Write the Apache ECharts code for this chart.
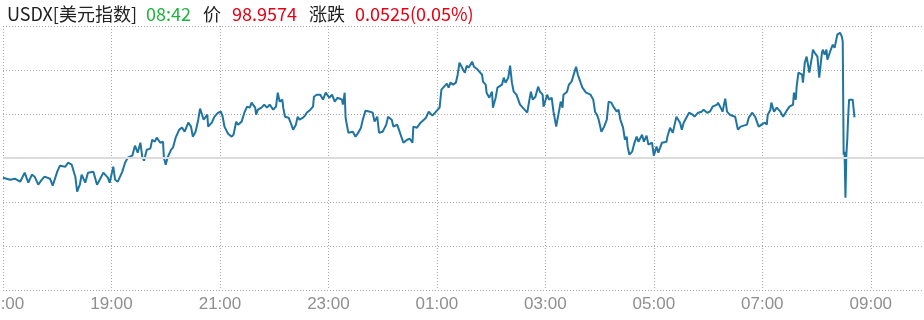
<!DOCTYPE html>
<html><head><meta charset="utf-8">
<script src="https://cdn.jsdelivr.net/npm/echarts@6/dist/echarts.min.js"></script>
<style>html,body{margin:0;padding:0;background:#fff}#c{width:924px;height:320px}</style>
</head><body><div id="c"></div>
<script>
const symbolName = 'USDX[美元指数]';
const lastTime = '08:42';
const lastPrice = '98.9574';
const changeText = '0.0525(0.05%)';
const prevClose = 98.9049;
const xTickHours = ['17:00','19:00','21:00','23:00','01:00','03:00','05:00','07:00','09:00'];

const times = [
'17:00','17:08','17:13','17:19','17:24','17:28','17:32','17:35','17:39','17:43','17:46','17:52','17:55',
'18:00','18:03','18:09','18:12','18:16','18:20','18:22','18:25','18:27','18:31','18:34','18:40','18:44','18:47','18:51','18:56','18:58',
'19:02','19:04','19:07','19:12','19:15','19:18','19:23','19:26','19:29','19:32','19:34','19:36','19:39','19:43','19:45','19:48','19:50','19:54','19:57','19:58',
'20:00','20:02','20:06','20:08','20:11','20:15','20:18','20:21','20:25','20:28','20:30','20:33','20:36','20:38','20:40','20:42','20:46','20:47','20:51','20:54','20:58',
'21:01','21:03','21:05','21:09','21:13','21:15','21:18','21:20','21:24','21:27','21:30','21:33','21:35','21:39','21:40','21:42','21:46','21:49','21:52','21:55','21:59',
'22:02','22:04','22:06','22:09','22:10','22:12','22:14','22:16','22:19','22:21','22:24','22:26','22:28','22:32','22:34','22:36','22:40','22:43','22:44','22:47','22:51','22:54','22:57',
'23:01','23:04','23:07','23:10','23:15','23:16','23:18','23:19','23:22','23:24','23:27','23:30','23:33','23:36','23:38','23:41','23:46','23:49','23:51','23:54','23:56',
'00:00','00:04','00:06','00:10','00:12','00:16','00:18','00:21','00:23','00:27','00:30','00:33','00:34','00:38','00:42','00:44','00:48','00:51','00:55','00:58',
'01:00','01:03','01:05','01:08','01:11','01:13','01:15','01:18','01:21','01:23','01:25','01:29','01:31','01:33','01:35','01:39','01:41','01:44','01:46','01:50','01:51','01:54','01:55','01:58',
'02:01','02:02','02:05','02:07','02:12','02:14','02:16','02:19','02:21','02:23','02:25','02:28','02:32','02:35','02:40','02:42','02:44','02:46','02:49','02:52','02:54','02:57','02:58',
'03:02','03:04','03:07','03:09','03:12','03:14','03:17','03:19','03:20','03:24','03:26','03:29','03:32','03:34','03:36','03:39','03:41','03:45','03:47','03:50','03:53','03:55','03:57','03:59',
'04:02','04:05','04:08','04:10','04:13','04:16','04:19','04:21','04:23','04:26','04:28','04:30','04:31','04:33','04:36','04:38','04:41','04:43','04:47','04:49','04:52','04:54','04:58',
'05:00','05:03','05:05','05:09','05:11','05:14','05:15','05:18','05:21','05:23','05:25','05:29','05:31','05:33','05:36','05:39','05:43','05:45','05:49','05:53','05:55','05:59',
'06:02','06:05','06:10','06:11','06:14','06:16','06:19','06:21','06:24','06:27','06:30','06:32','06:33','06:36','06:38','06:43','06:45','06:49','06:52','06:54','06:56','06:59',
'07:03','07:05','07:06','07:09','07:10','07:13','07:16','07:17','07:20','07:23','07:25','07:27','07:30','07:34','07:35','07:37','07:38','07:40','07:44','07:45','07:47','07:49','07:50','07:52','07:55','07:56','07:58',
'08:00','08:01','08:03','08:06','08:07','08:09','08:11','08:12','08:15','08:17','08:18','08:20','08:22','08:23','08:26','08:28','08:29','08:30','08:31','08:32','08:33','08:34','08:35','08:36','08:38','08:40','08:42'
];

const prices = [
98.8794,98.8768,98.8781,98.8742,98.8859,98.8729,98.8833,98.8807,98.8703,98.8768,98.8807,98.8781,98.8690,
98.8872,98.8950,98.8937,98.8988,98.8962,98.8807,98.8613,98.8703,98.8833,98.8729,98.8859,98.8872,98.8703,98.8768,98.8859,98.8794,98.8729,
98.8937,98.8768,98.8742,98.8872,98.8988,98.9053,98.9079,98.9209,98.9118,98.9247,98.9066,98.9014,98.9157,98.9170,98.9286,98.9260,98.9312,98.9247,98.9260,98.9053,
98.8962,98.9053,98.9157,98.9183,98.9312,98.9416,98.9442,98.9390,98.9507,98.9455,98.9325,98.9390,98.9545,98.9688,98.9701,98.9545,98.9610,98.9455,98.9507,98.9584,98.9636,
98.9649,98.9584,98.9455,98.9364,98.9325,98.9351,98.9520,98.9481,98.9520,98.9636,98.9714,98.9701,98.9766,98.9701,98.9610,98.9675,98.9701,98.9740,98.9701,98.9740,98.9675,
98.9714,98.9895,98.9779,98.9805,98.9701,98.9584,98.9584,98.9571,98.9481,98.9416,98.9481,98.9584,98.9545,98.9571,98.9597,98.9636,98.9675,98.9714,98.9843,98.9869,98.9869,98.9805,98.9895,
98.9830,98.9869,98.9779,98.9830,98.9805,98.9740,98.9895,98.9571,98.9377,98.9390,98.9390,98.9325,98.9377,98.9442,98.9545,98.9662,98.9649,98.9636,98.9520,98.9584,98.9377,
98.9390,98.9481,98.9584,98.9545,98.9455,98.9481,98.9416,98.9312,98.9247,98.9286,98.9299,98.9247,98.9455,98.9442,98.9507,98.9520,98.9571,98.9649,98.9597,98.9636,
98.9662,98.9701,98.9934,98.9973,99.0012,98.9960,99.0025,98.9999,99.0025,99.0128,99.0284,99.0193,99.0154,99.0245,99.0219,99.0297,99.0232,99.0206,99.0193,99.0128,99.0038,98.9999,98.9895,98.9830,
98.9908,98.9701,98.9830,98.9960,98.9999,99.0090,99.0025,99.0090,99.0245,99.0025,98.9908,98.9869,98.9740,98.9701,98.9636,98.9779,98.9908,98.9805,98.9843,98.9973,98.9908,98.9869,98.9714,
98.9869,98.9805,98.9830,98.9649,98.9455,98.9455,98.9779,98.9701,98.9869,98.9908,98.9999,99.0038,99.0154,99.0232,99.0128,99.0025,98.9960,98.9895,98.9908,98.9869,98.9805,98.9649,98.9610,98.9545,
98.9390,98.9455,98.9545,98.9779,98.9766,98.9701,98.9649,98.9675,98.9545,98.9442,98.9286,98.9325,98.9196,98.9092,98.9131,98.9222,98.9325,98.9260,98.9351,98.9260,98.9338,98.9222,98.9247,
98.9079,98.9196,98.9118,98.9247,98.9260,98.9260,98.9325,98.9442,98.9377,98.9481,98.9584,98.9507,98.9416,98.9507,98.9571,98.9636,98.9610,98.9584,98.9636,98.9649,98.9675,98.9636,
98.9649,98.9714,98.9740,98.9766,98.9701,98.9649,98.9818,98.9649,98.9610,98.9597,98.9584,98.9584,98.9416,98.9455,98.9442,98.9481,98.9571,98.9636,98.9584,98.9571,98.9455,98.9481,
98.9507,98.9481,98.9610,98.9675,98.9766,98.9649,98.9701,98.9714,98.9649,98.9584,98.9584,98.9662,98.9714,98.9740,98.9895,98.9805,98.9973,99.0154,99.0128,99.0025,99.0284,99.0362,99.0297,99.0154,99.0362,99.0452,99.0413,
99.0426,99.0362,99.0090,99.0413,99.0452,99.0387,99.0452,99.0323,99.0426,99.0426,99.0517,99.0478,99.0491,99.0647,99.0672,99.0621,99.0556,98.9092,98.9131,98.8535,98.9092,98.9286,98.9584,98.9805,98.9818,98.9805,98.9574
];

function toMinute(t) {
  const h = parseInt(t.slice(0, 2), 10), m = parseInt(t.slice(3), 10);
  return (h >= 17 ? h - 17 : h + 7) * 60 + m;
}
// change from previous close in units of 0.0001
const seriesData = times.map((t, i) => [toMinute(t), Math.round((prices[i] - prevClose) * 100000) / 10]);

const FONT = '"Noto Sans CJK SC", "Noto Sans", sans-serif';
function seg(color, padLeft) {
  return { color: color, fontSize: 18, fontWeight: 'normal', fontFamily: FONT, padding: [0, 0, 0, padLeft] };
}
const chart = echarts.init(document.getElementById('c'), null, { renderer: 'canvas' });
chart.setOption({
  animation: false,
  title: {
    left: 2, top: 0,
    text: '{a|' + symbolName + '}{b|' + lastTime + '}{c|价}{d|' + lastPrice + '}{e|涨跌}{f|' + changeText + '}',
    textStyle: {
      fontWeight: 'normal',
      rich: {
        a: seg('#222222', 0),
        b: seg('#1fb23c', 9),
        c: seg('#222222', 12),
        d: seg('#e60012', 11),
        e: seg('#222222', 12),
        f: seg('#e60012', 10)
      }
    }
  },
  grid: { left: 3, top: 26, width: 922, height: 264, containLabel: false, outerBoundsMode: 'none' },
  xAxis: {
    type: 'value', min: 0, max: 1020, interval: 120,
    axisLine: { show: false }, axisTick: { show: false },
    axisLabel: {
      showMaxLabel: false, showMinLabel: true, hideOverlap: false, margin: 6, color: '#8f8f8f', fontSize: 17,
      fontFamily: '"Liberation Sans", sans-serif',
      formatter: v => xTickHours[Math.round(v / 120)] || ''
    },
    splitLine: { show: true, lineStyle: { color: '#a8a8a8', width: 1, type: [1, 2] } }
  },
  yAxis: {
    type: 'value', min: -1710, max: 1710, interval: 570,
    axisLine: { show: false }, axisTick: { show: false }, axisLabel: { show: false },
    splitLine: { show: true, lineStyle: { color: '#a8a8a8', width: 1, type: [1, 2] } }
  },
  series: [{
    type: 'line', data: seriesData, symbol: 'none', showSymbol: false,
    lineStyle: { color: '#1f74a0', width: 2 },
    markLine: {
      silent: true, symbol: 'none', label: { show: false },
      lineStyle: { color: '#dcdcdc', width: 2, type: 'solid' },
      data: [{ yAxis: 0 }]
    },
    z: 3
  }]
});
</script></body></html>
